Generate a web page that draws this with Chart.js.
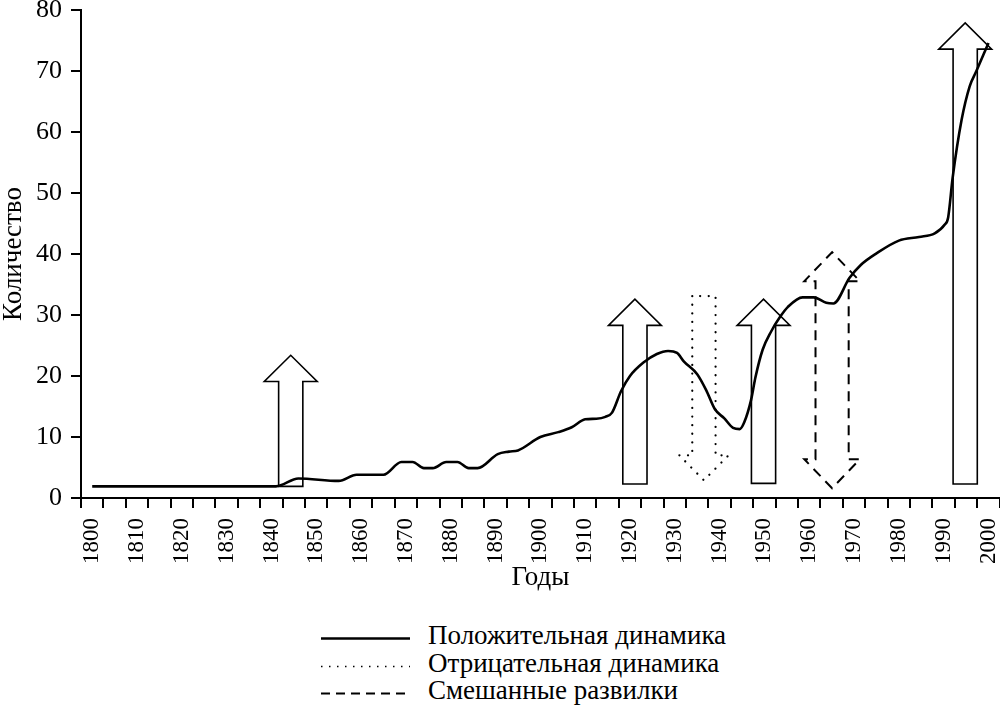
<!DOCTYPE html>
<html>
<head>
<meta charset="utf-8">
<script src="https://cdn.jsdelivr.net/npm/chart.js@4.4.0/dist/chart.umd.min.js"></script>
<style>
  html, body { margin: 0; padding: 0; background: #fff; }
  #wrap { position: relative; width: 1000px; height: 713px; font-family: "Liberation Serif", "DejaVu Serif", serif; color: #000; }
  #chart-box { position: absolute; left: 0; top: 0; width: 1000px; height: 601px; }
  .legend-row { position: absolute; left: 320px; height: 29px; line-height: 29px; font-size: 27px; white-space: nowrap; }
  .legend-row svg { position: absolute; left: 0; top: 0; }
  .legend-row span { position: absolute; left: 108px; top: 0; }
</style>
</head>
<body>
<div id="wrap">
  <div id="chart-box"><canvas id="chart"></canvas></div>
  <div id="legend"></div>
</div>
<script>
const FONT = '"Liberation Serif", "DejaVu Serif", serif';

// curve
const years = [1800, 1841, 1846, 1855, 1859, 1865, 1869, 1871.5, 1874, 1876,
  1879, 1881.5, 1884, 1886, 1890.5, 1893, 1895, 1900, 1904, 1907,
  1910, 1912.5, 1914.5, 1916, 1918, 1920, 1923, 1926, 1928.5, 1930.5,
  1932, 1935, 1937, 1939, 1941, 1943, 1944.5, 1945.5, 1947, 1948,
  1949.6, 1951.5, 1953.5, 1955.2, 1958.5, 1961, 1963.8, 1965.4, 1969, 1971.5,
  1975, 1980, 1984.5, 1988, 1990.2, 1991, 1992, 1994, 1995.8, 1997.3,
  2000];
const counts = [1.9, 1.9, 3.2, 2.8, 3.8, 3.8, 5.9, 5.9, 4.9, 4.9,
  5.9, 5.9, 4.9, 4.9, 7.2, 7.6, 7.8, 10, 10.8, 11.6,
  12.9, 13, 13.3, 14, 17.5, 20, 22.2, 23.6, 24.1, 23.8,
  22.4, 20.3, 17.7, 14.5, 13.1, 11.5, 11.3, 12.4, 16, 19.8,
  24.3, 27.3, 29.7, 31.3, 32.9, 32.9, 32, 31.9, 36.1, 38.2,
  40.1, 42.2, 42.8, 43.4, 44.8, 46, 52.5, 62, 67.5, 70,
  74.6];

// block arrows: year of the shaft, tail value, tip value, kind
const arrowYears = [1844.3, 1921.1, 1936.5, 1949.8, 1965.1, 1994.8];
const arrowFrom = [1.9, 2.3, 33.1, 2.4, 1.6, 2.3];
const arrowTo = [23.4, 32.6, 2.9, 32.6, 40.3, 77.9];
const arrowKinds = ["positive", "positive", "negative", "positive", "mixed", "positive"];

const yearLabels = [1800, 1810, 1820, 1830, 1840, 1850, 1860, 1870, 1880, 1890,
  1900, 1910, 1920, 1930, 1940, 1950, 1960, 1970, 1980, 1990, 2000];
const legendKinds = ["positive", "negative", "mixed"];
const legendLabels = ["Положительная динамика", "Отрицательная динамика", "Смешанные развилки"];

const X_MIN = 1797.5;
const X_MAX = 2002.5;
const tickMarkYears = [];
for (let v = X_MIN; v <= X_MAX; v += 5) tickMarkYears.push(v);

// sizes in axis units (years / count)
const ARROW_STYLES = {
  positive: { dash: [], cap: "butt", width: 1.6, shaft: 2.7, wing: 5.9, head: 4.3, heads: 1, svgDash: "", svgWidth: 2.5 },
  negative: { dash: [0.1, 8.5], cap: "round", width: 2.2, shaft: 2.6, wing: 5.5, head: 4.1, heads: 1, svgDash: "1.5 6.5", svgWidth: 1.6 },
  mixed: { dash: [10, 7], cap: "butt", width: 2, shaft: 3.7, wing: 6.2, head: 4.75, heads: 2, svgDash: "9 6", svgWidth: 2 },
};

const arrowPlugin = {
  id: "blockArrows",
  afterDatasetsDraw(chart) {
    const { ctx } = chart;
    const xs = chart.scales.x;
    const ys = chart.scales.y;
    ctx.save();
    ctx.strokeStyle = "#000";
    arrowYears.forEach((year, i) => {
      const st = ARROW_STYLES[arrowKinds[i]];
      const from = arrowFrom[i];
      const to = arrowTo[i];
      const dir = Math.sign(to - from);
      const baseTo = to - dir * st.head;
      let pts;
      if (st.heads === 2) {
        const baseFrom = from + dir * st.head;
        pts = [
          [year - st.shaft, baseFrom], [year - st.shaft, baseTo], [year - st.wing, baseTo],
          [year, to], [year + st.wing, baseTo], [year + st.shaft, baseTo],
          [year + st.shaft, baseFrom], [year + st.wing, baseFrom], [year, from],
          [year - st.wing, baseFrom],
        ];
      } else {
        pts = [
          [year - st.shaft, from], [year - st.shaft, baseTo], [year - st.wing, baseTo],
          [year, to], [year + st.wing, baseTo], [year + st.shaft, baseTo],
          [year + st.shaft, from],
        ];
      }
      ctx.lineWidth = st.width;
      ctx.lineCap = st.cap;
      ctx.lineJoin = "miter";
      ctx.setLineDash(st.dash);
      ctx.beginPath();
      pts.forEach(([a, b], k) => {
        const px = xs.getPixelForValue(a);
        const py = ys.getPixelForValue(b);
        if (k === 0) ctx.moveTo(px, py);
        else ctx.lineTo(px, py);
      });
      ctx.closePath();
      ctx.stroke();
    });
    ctx.restore();
  },
};

new Chart(document.getElementById("chart"), {
  type: "line",
  data: {
    datasets: [{
      data: years.map((yr, i) => ({ x: yr, y: counts[i] })),
      borderColor: "#000",
      borderWidth: 2.6,
      pointRadius: 0,
      fill: false,
      cubicInterpolationMode: "monotone",
    }],
  },
  options: {
    responsive: true,
    maintainAspectRatio: false,
    animation: false,
    layout: { padding: 0 },
    plugins: { legend: { display: false }, tooltip: { enabled: false } },
    scales: {
      // axis line + small tick marks between the year labels
      x: {
        type: "linear",
        position: "bottom",
        min: X_MIN,
        max: X_MAX,
        weight: 0,
        afterBuildTicks: (axis) => { axis.ticks = tickMarkYears.map((v) => ({ value: v })); },
        ticks: { display: false },
        grid: { drawOnChartArea: false, drawTicks: true, tickLength: 10, color: "#000", lineWidth: 2 },
        border: { color: "#000", width: 2 },
      },
      // year labels (the transparent ticks just make the gap under the tick marks)
      years: {
        type: "linear",
        position: "bottom",
        min: X_MIN,
        max: X_MAX,
        weight: 1,
        afterBuildTicks: (axis) => { axis.ticks = yearLabels.map((v) => ({ value: v })); },
        ticks: {
          autoSkip: false,
          minRotation: 90,
          maxRotation: 90,
          padding: 0,
          color: "#000",
          font: { family: FONT, size: 23, lineHeight: 0.5 },
          callback: (v) => String(v),
        },
        grid: { drawOnChartArea: false, drawTicks: true, tickLength: 10, color: "rgba(0,0,0,0)" },
        border: { display: false },
        title: {
          display: true,
          text: "Годы",
          color: "#000",
          font: { family: FONT, size: 27, lineHeight: 1 },
          padding: { top: 0, bottom: 10 },
        },
      },
      y: {
        min: 0,
        max: 80,
        ticks: {
          stepSize: 10,
          padding: 9,
          color: "#000",
          font: { family: FONT, size: 26, lineHeight: 0.08 },
        },
        grid: { drawOnChartArea: false, tickLength: 10, color: "#000", lineWidth: 2 },
        border: { color: "#000", width: 2 },
        title: {
          display: true,
          text: "Количество",
          color: "#000",
          font: { family: FONT, size: 27, lineHeight: 1 },
          padding: { top: 0, bottom: 0 },
        },
      },
    },
  },
  plugins: [arrowPlugin],
});

// legend below the chart
const legend = document.getElementById("legend");
legendLabels.forEach((label, i) => {
  const st = ARROW_STYLES[legendKinds[i]];
  const row = document.createElement("div");
  row.className = "legend-row";
  row.style.top = (621 + i * 27.5) + "px";
  row.innerHTML =
    '<svg width="92" height="30"><line x1="1" y1="17.5" x2="90" y2="17.5" stroke="#000" stroke-width="' +
    st.svgWidth + '"' + (st.svgDash ? ' stroke-dasharray="' + st.svgDash + '"' : "") + "/></svg>" +
    "<span>" + label + "</span>";
  legend.appendChild(row);
});
</script>
</body>
</html>
